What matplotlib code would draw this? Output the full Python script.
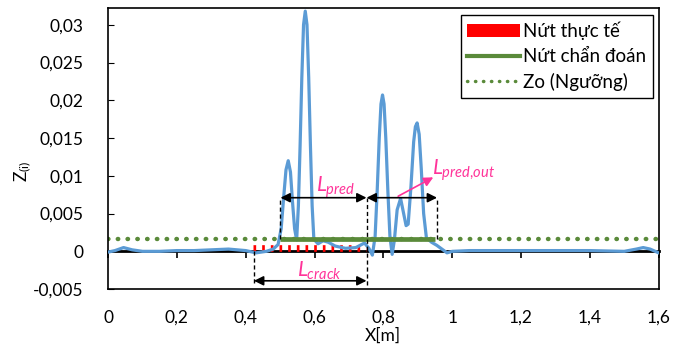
import matplotlib
matplotlib.use("Agg")
import matplotlib.pyplot as plt
from matplotlib.patches import Patch
from matplotlib.lines import Line2D

plt.rcParams['font.family'] = ['Lato', 'DejaVu Sans']
plt.rcParams['mathtext.fontset'] = 'custom'
plt.rcParams['mathtext.it'] = 'Lato:italic'
plt.rcParams['mathtext.rm'] = 'Lato'

# Đường Z(i)
x_z = [0.000, 0.020, 0.045, 0.070, 0.100, 0.150, 0.200, 0.250, 0.300, 0.350,
       0.400, 0.430, 0.460, 0.480, 0.494, 0.503, 0.510, 0.517, 0.5235, 0.530,
       0.536, 0.542, 0.548, 0.553, 0.558, 0.563, 0.568, 0.573, 0.578, 0.583,
       0.588, 0.593, 0.598, 0.610, 0.625, 0.640, 0.660, 0.690, 0.720, 0.745,
       0.758, 0.768, 0.776, 0.782, 0.788, 0.793, 0.7975, 0.802, 0.807, 0.813,
       0.819, 0.8255, 0.832, 0.840, 0.850, 0.858, 0.866, 0.872, 0.880, 0.888,
       0.893, 0.898, 0.904, 0.910, 0.917, 0.925, 0.940, 0.955, 0.970, 0.985,
       1.000, 1.050, 1.100, 1.200, 1.300, 1.400, 1.500, 1.535, 1.555, 1.575,
       1.600]
z_val = [-0.0001, 0.0001, 0.0005, 0.0002, 0.0000, 0.0000, 0.0001, 0.0001, 0.0002, 0.0003,
         0.0001, -0.0002, 0.0000, 0.0003, 0.0009, 0.0030, 0.0070, 0.0108, 0.0120, 0.0105,
         0.0065, 0.0030, 0.0015, 0.0060, 0.0140, 0.0230, 0.0300, 0.0318, 0.0300, 0.0230,
         0.0140, 0.0060, 0.0016, 0.0010, 0.0014, 0.0012, 0.0007, 0.0004, 0.0005, 0.0011,
         0.0004, -0.0005, 0.0020, 0.0080, 0.0150, 0.0195, 0.0207, 0.0195, 0.0150, 0.0080,
         0.0020, -0.0004, 0.0015, 0.0055, 0.0070, 0.0052, 0.0034, 0.0036, 0.0085, 0.0145,
         0.0165, 0.0170, 0.0155, 0.0110, 0.0050, 0.0018, 0.0012, 0.0008, 0.0003, -0.0002,
         0.0000, 0.0001, 0.0001, 0.0001, 0.0001, 0.0001, 0.0000, 0.0003, 0.0005, 0.0003,
         -0.0002]

zo = 0.0016                 # ngưỡng
crack = [0.42, 0.75]        # nứt thực tế
crack_h = 0.00045
pred = [0.50, 0.95]         # nứt chẩn đoán
l_pred = [0.501, 0.751]
l_pred_out = [0.751, 0.956]
l_crack = [0.424, 0.751]
y_arrow_pred = 0.0071
y_arrow_crack = -0.0039

xticks = [0, 0.2, 0.4, 0.6, 0.8, 1.0, 1.2, 1.4, 1.6]
xlabels = ['0', '0,2', '0,4', '0,6', '0,8', '1', '1,2', '1,4', '1,6']
yticks = [-0.005, 0, 0.005, 0.01, 0.015, 0.02, 0.025, 0.03]
ylabels = ['-0,005', '0', '0,005', '0,01', '0,015', '0,02', '0,025', '0,03']

blue = '#5B9BD5'
green = '#5A8A3A'
pink = '#FF3399'

fig = plt.figure(figsize=(6.84, 3.53), dpi=100)
ax = fig.add_axes([0.158, 0.181, 0.805, 0.796])

ax.plot([0, 1.6], [zo, zo], color=green, lw=3.2, ls=(0, (0.1, 2.1)),
        dash_capstyle='round', zorder=2)
ax.plot(crack, [crack_h, crack_h], color='red', lw=4.8, dashes=(0.4, 0.9),
        dash_capstyle='butt', zorder=2)
ax.plot(x_z, z_val, color=blue, lw=2.3, zorder=3)
ax.plot(pred, [zo, zo], color=green, lw=3.4, solid_capstyle='butt', zorder=4)

# đường gióng nét đứt
ax.plot([l_pred[0]] * 2, [zo, y_arrow_pred], 'k--', lw=1, dashes=(3, 2), zorder=5)
ax.plot([l_pred[1]] * 2, [y_arrow_crack - 0.0005, y_arrow_pred], 'k--', lw=1, dashes=(3, 2), zorder=5)
ax.plot([l_pred_out[1]] * 2, [zo, y_arrow_pred], 'k--', lw=1, dashes=(3, 2), zorder=5)
ax.plot([l_crack[0]] * 2, [0, y_arrow_crack - 0.0005], 'k--', lw=1, dashes=(3, 2), zorder=5)

arr = dict(arrowstyle='<|-|>', color='black', lw=1.2, mutation_scale=14,
           shrinkA=0, shrinkB=0)
ax.annotate('', xy=(l_pred[1], y_arrow_pred), xytext=(l_pred[0], y_arrow_pred), arrowprops=arr, zorder=6)
ax.annotate('', xy=(l_pred_out[1], y_arrow_pred), xytext=(l_pred_out[0], y_arrow_pred), arrowprops=arr, zorder=6)
ax.annotate('', xy=(l_crack[1], y_arrow_crack), xytext=(l_crack[0], y_arrow_crack), arrowprops=arr, zorder=6)
ax.annotate('', xy=(0.945, 0.0098), xytext=(0.843, 0.0073),
            arrowprops=dict(arrowstyle='-|>', color=pink, lw=1.2, mutation_scale=14,
                            shrinkA=0, shrinkB=0))

ax.text(0.66, 0.0085, r'$L_{pred}$', color=pink, fontsize=15, ha='center', va='center')
ax.text(0.615, -0.0026, r'$L_{crack}$', color=pink, fontsize=15, ha='center', va='center')
ax.text(0.94, 0.0108, r'$L_{pred{,}out}$', color=pink, fontsize=15, ha='left', va='center')

ax.set_xlim(0, 1.6)
ax.set_ylim(-0.005, 0.0322)
ax.set_xticks(xticks)
ax.set_xticklabels(xlabels)
ax.set_yticks(yticks)
ax.set_yticklabels(ylabels)
ax.tick_params(axis='x', length=0, pad=15, labelsize=12.5)
ax.tick_params(axis='y', direction='in', length=4, pad=18, labelsize=12.5)
for sp in ax.spines.values():
    sp.set_linewidth(1.2)

# trục hoành tại y = 0
sec = ax.secondary_xaxis(0, transform=ax.transData)
sec.set_xticks(xticks)
sec.set_xticklabels([])
sec.tick_params(direction='out', length=5, width=1.2)
sec.spines['bottom'].set_linewidth(2)

ax.set_xlabel('X[m]', fontsize=12.5, labelpad=1)
ax.set_ylabel(r'Z$_{\mathrm{(i)}}$', fontsize=12.5)
ax.yaxis.set_label_coords(-0.135, 0.42)

handles = [Patch(facecolor='red', edgecolor='none'),
           Line2D([], [], color=green, lw=3),
           Line2D([], [], color=green, lw=2.5, ls=(0, (0.1, 2.2)), dash_capstyle='round')]
leg = ax.legend(handles, ['Nứt thực tế', 'Nứt chẩn đoán', 'Zo (Ngưỡng)'],
                loc='upper right', bbox_to_anchor=(0.99, 0.975), fontsize=13.5,
                frameon=True, fancybox=False, edgecolor='black', framealpha=1,
                handlelength=2.8, handletextpad=0.2, borderpad=0.35, labelspacing=0.42,
                borderaxespad=0)
leg.get_frame().set_linewidth(1)

fig.savefig('out.png', dpi=100)
